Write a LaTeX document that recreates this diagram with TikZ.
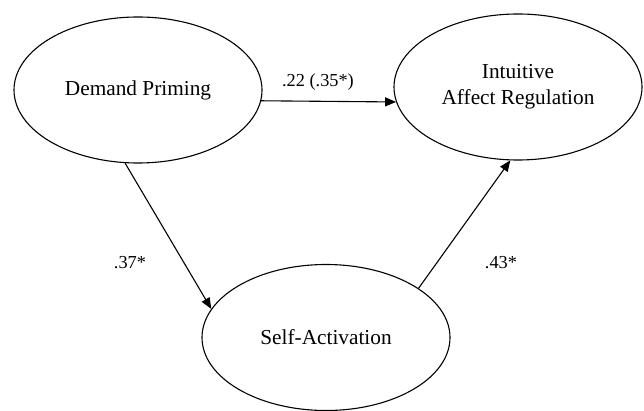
\documentclass[tikz,border=0pt]{standalone}
\usepackage{fontspec}
\setmainfont{Liberation Serif}
\usetikzlibrary{shapes.geometric,arrows.meta}
\begin{document}
\begin{tikzpicture}[x=1pt,y=-1pt,
  var/.style={draw,line width=1.1pt,ellipse,minimum width=248pt,minimum height=146pt,inner sep=0pt,
    font=\fontsize{21.3}{26}\selectfont,align=center},
  arr/.style={line width=1.1pt,-{Triangle[length=11pt,width=9pt]}},
  coef/.style={font=\fontsize{18.3}{22}\selectfont}]
\useasboundingbox (0,0) rectangle (644,411);
\node[var] (dp) at (138,90) {Demand Priming};
\node[var] (iar) at (518,87) {Intuitive\\Affect Regulation};
\node[var] (sa) at (326,337.5) {Self-Activation};
\draw[arr] (dp.-5.6) -- (iar.187);
\draw[arr] (dp.-100.1) -- (sa.166.7);
\draw[arr] (sa.28.3) -- (iar.-96.3);
\node[coef] (l1) at (318,82) {.22 (.35*)};
\node[coef] (l2) at (130,263) {.37*};
\node[coef] (l3) at (501,263) {.43*};
\end{tikzpicture}
\end{document}
